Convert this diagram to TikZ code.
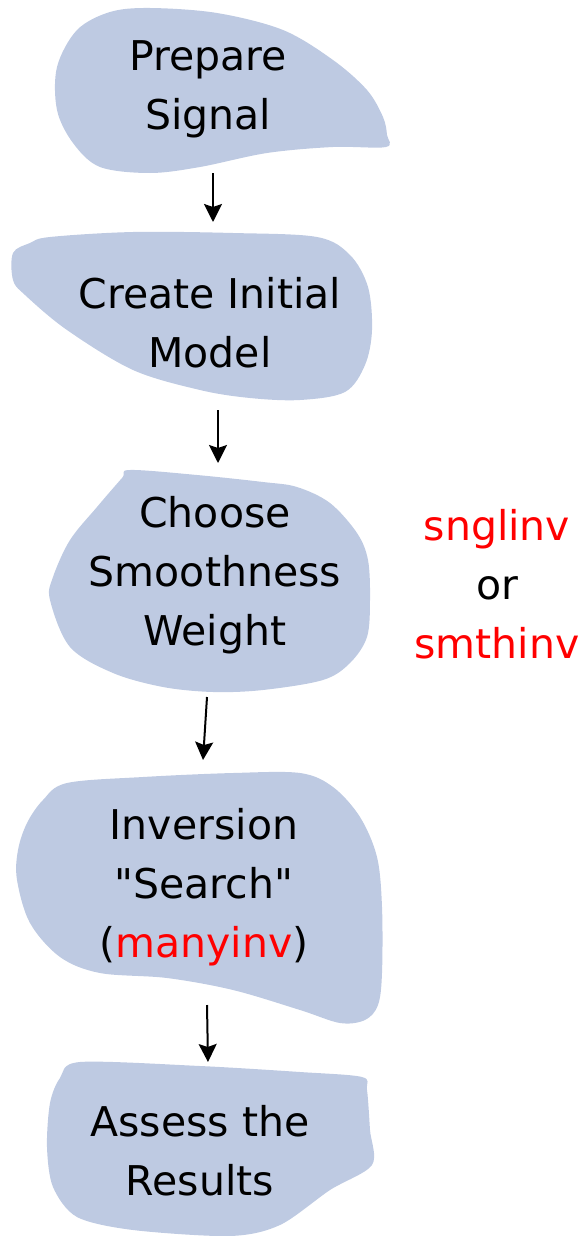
\documentclass[tikz,border=0pt]{standalone}
\usepackage{fontspec}
\setmainfont{DejaVu Sans}
\usetikzlibrary{arrows.meta}
\definecolor{blobfill}{RGB}{190,202,226}
\definecolor{lblred}{RGB}{255,0,0}
\tikzset{
  blob/.style={fill=blobfill, draw=none},
  lbl/.style={anchor=base, align=center, inner sep=0pt, text=black,
              font=\fontsize{41}{59}\selectfont},
  flow/.style={line width=2pt, -{Stealth[length=18pt,width=18pt,inset=3pt]}},
}
\begin{document}
\begin{tikzpicture}[x=1pt,y=-1pt]
\useasboundingbox (0,0) rectangle (581,1236);
% blobs
\path[blob] plot[smooth cycle, tension=0.55] coordinates {
 (150,8) (217,13) (283,30) (333,60) (367,90) (383,117) (387,135) (386,147)
 (333,147) (267,153) (200,167) (150,173) (100,167) (73,143) (57,110) (57,67) (77,30) (110,12)};
\path[blob] plot[smooth cycle, tension=0.55] coordinates {
 (13,253) (30,243) (50,237) (133,232) (233,233) (317,237) (350,255) (368,287)
 (372,330) (365,365) (345,392) (300,400) (250,398) (200,390) (133,370) (67,330) (25,295) (13,280)};
\path[blob] plot[smooth cycle, tension=0.55] coordinates {
 (130,470) (197,475) (263,482) (297,487) (330,503) (357,533) (368,560) (370,600)
 (367,637) (350,663) (323,680) (263,690) (213,692) (163,687) (113,673) (70,647)
 (50,600) (53,577) (70,540) (97,507) (122,478)};
\path[blob] plot[smooth cycle, tension=0.55] coordinates {
 (67,783) (143,777) (233,773) (300,773) (333,787) (360,817) (377,857) (382,907)
 (382,973) (378,1005) (365,1020) (340,1023) (300,1010) (233,990) (167,978)
 (100,973) (60,957) (30,923) (17,880) (18,850) (27,823) (43,800)};
\path[blob] plot[smooth cycle, tension=0.5] coordinates {
 (80,1062) (200,1066) (300,1072) (362,1077) (367,1090) (370,1130) (372,1165)
 (330,1190) (280,1225) (230,1236) (133,1230) (77,1217) (53,1187) (47,1147)
 (50,1103) (60,1078)};
% texts (anchor=base is the baseline of the last line)
\node[lbl] (prep) at (208,130) {Prepare\\Signal};
\node[lbl] (create) at (210,367) {Create Initial\\Model};
\node[lbl] (choose) at (215,645) {Choose\\Smoothness\\Weight};
\node[lbl] (inv) at (204,957) {Inversion\\\textquotedbl Search\textquotedbl\\(\textcolor{lblred}{manyinv})};
\node[lbl] (assess) at (200,1195) {Assess the\\Results};
\node[lbl] (progs) at (497,658) {\textcolor{lblred}{snglinv}\\or\\\textcolor{lblred}{smthinv}};
% connectors
\coordinate (a1s) at (213,173); \coordinate (a1e) at (213,222);
\coordinate (a2s) at (218,410); \coordinate (a2e) at (218,463);
\coordinate (a3s) at (207,697); \coordinate (a3e) at (203,760);
\coordinate (a4s) at (207,1005); \coordinate (a4e) at (208,1062);
\draw[flow] (a1s) -- (a1e);
\draw[flow] (a2s) -- (a2e);
\draw[flow] (a3s) -- (a3e);
\draw[flow] (a4s) -- (a4e);
\end{tikzpicture}
\end{document}
